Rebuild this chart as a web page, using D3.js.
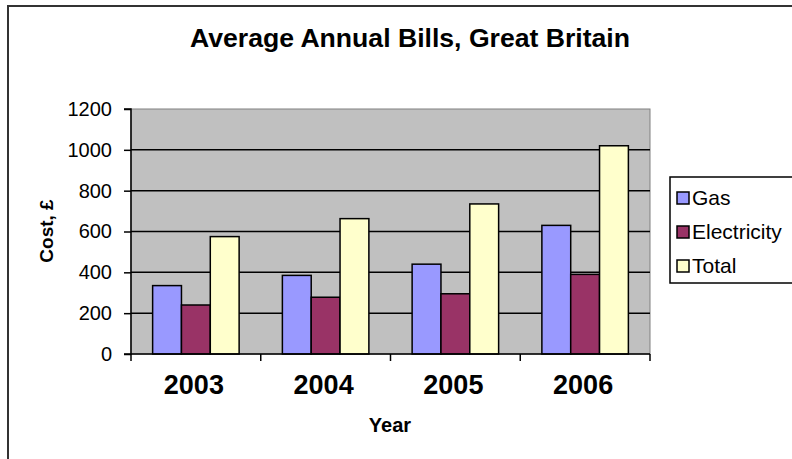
<!DOCTYPE html>
<html>
<head>
<meta charset="utf-8">
<script src="https://cdn.jsdelivr.net/npm/d3@7"></script>
<style>
  html, body { margin: 0; padding: 0; background: #fff; }
  svg { display: block; }
  text { font-family: "Liberation Sans", Arial, sans-serif; fill: #000; }
</style>
</head>
<body>
<svg id="chart" width="792" height="459"></svg>
<script>
const years = ["2003", "2004", "2005", "2006"];
const seriesNames = ["Gas", "Electricity", "Total"];
const gas = [335, 385, 440, 630];
const electricity = [240, 278, 295, 390];
const total = [575, 663, 735, 1020];
const yTicks = [0, 200, 400, 600, 800, 1000, 1200];
const colors = ["#9999FF", "#993366", "#FFFFCC"];

const seriesValues = [gas, electricity, total];
const svg = d3.select("#chart");

// outer chart frame (extends past right/bottom edges)
svg.append("rect")
  .attr("x", 8).attr("y", 6).attr("width", 800).attr("height", 470)
  .attr("fill", "#fff").attr("stroke", "#333").attr("stroke-width", 2);

const plot = { left: 131, right: 650, top: 109, bottom: 354 };

const x = d3.scaleBand().domain(years).range([plot.left, plot.right]).paddingInner(0).paddingOuter(0);
const y = d3.scaleLinear().domain([0, 1200]).range([plot.bottom, plot.top]);
const barW = x.bandwidth() / 4.5;
const xs = d3.scaleBand().domain(seriesNames).range([barW * 0.75, barW * 0.75 + 3 * barW]).padding(0);

// plot background
svg.append("rect")
  .attr("x", plot.left).attr("y", plot.top)
  .attr("width", plot.right - plot.left).attr("height", plot.bottom - plot.top)
  .attr("fill", "#C0C0C0").attr("stroke", "#808080").attr("stroke-width", 1);

// gridlines
svg.append("g").selectAll("line")
  .data(yTicks.filter(d => d > 0 && d < 1200))
  .join("line")
  .attr("x1", plot.left).attr("x2", plot.right)
  .attr("y1", d => y(d)).attr("y2", d => y(d))
  .attr("stroke", "#000").attr("stroke-width", 1.5);

// bars
const groups = svg.append("g").selectAll("g")
  .data(years)
  .join("g")
  .attr("transform", d => `translate(${x(d)},0)`);

groups.selectAll("rect")
  .data((yr, i) => seriesNames.map((s, j) => ({ s, j, v: seriesValues[j][i] })))
  .join("rect")
  .attr("x", d => xs(d.s))
  .attr("width", xs.bandwidth())
  .attr("y", d => y(d.v))
  .attr("height", d => y(0) - y(d.v))
  .attr("fill", d => colors[d.j])
  .attr("stroke", "#000").attr("stroke-width", 1.5);

// y axis
const yAxis = d3.axisLeft(y).tickValues(yTicks).tickFormat(d3.format("d")).tickSize(7).tickPadding(12);
const gy = svg.append("g").attr("transform", `translate(${plot.left},0)`).call(yAxis);
gy.select(".domain").attr("stroke", "#000").attr("stroke-width", 1.5).attr("d", `M-7,${plot.top}H0V${plot.bottom}H-7`);
gy.selectAll(".tick line").attr("stroke", "#000").attr("stroke-width", 1.5);
gy.selectAll(".tick text")
  .style("font-family", "'Liberation Sans', Arial, sans-serif")
  .style("font-size", "20px").attr("fill", "#000");

// x axis
const gx = svg.append("g").attr("transform", `translate(0,${plot.bottom})`);
gx.append("line").attr("x1", plot.left).attr("x2", plot.right).attr("y1", 0).attr("y2", 0)
  .attr("stroke", "#000").attr("stroke-width", 1.5);
const boundaries = years.map(d => x(d)).concat([plot.right]);
gx.selectAll("line.tk").data(boundaries).join("line").attr("class", "tk")
  .attr("x1", d => d).attr("x2", d => d).attr("y1", 0).attr("y2", 7)
  .attr("stroke", "#000").attr("stroke-width", 1.5);
gx.selectAll("text").data(years).join("text")
  .attr("x", d => x(d) + x.bandwidth() / 2 - 2)
  .attr("y", 40)
  .attr("text-anchor", "middle")
  .style("font-size", "27px").style("font-weight", "bold")
  .text(d => d);

// title
svg.append("text")
  .attr("x", 410).attr("y", 47)
  .attr("text-anchor", "middle")
  .attr("textLength", 440).attr("lengthAdjust", "spacingAndGlyphs")
  .style("font-size", "25px").style("font-weight", "bold")
  .text("Average Annual Bills, Great Britain");

// axis titles
svg.append("text")
  .attr("x", 390).attr("y", 432)
  .attr("text-anchor", "middle")
  .style("font-size", "20px").style("font-weight", "bold")
  .text("Year");

svg.append("text")
  .attr("transform", "translate(53,231) rotate(-90)")
  .attr("text-anchor", "middle")
  .style("font-size", "19px").style("font-weight", "bold")
  .text("Cost, £");

// legend
const legend = svg.append("g");
legend.append("rect")
  .attr("x", 670).attr("y", 177).attr("width", 140).attr("height", 106)
  .attr("fill", "#fff").attr("stroke", "#000").attr("stroke-width", 1.5);
const rowY = d3.scalePoint().domain(seriesNames).range([198, 266]);
const items = legend.selectAll("g.item").data(seriesNames).join("g").attr("class", "item");
items.append("rect")
  .attr("x", 677).attr("y", d => rowY(d) - 6)
  .attr("width", 12).attr("height", 12)
  .attr("fill", (d, i) => colors[i]).attr("stroke", "#000").attr("stroke-width", 1.5);
items.append("text")
  .attr("x", 692).attr("y", d => rowY(d) + 7)
  .style("font-size", "21px")
  .text(d => d);
</script>
</body>
</html>
